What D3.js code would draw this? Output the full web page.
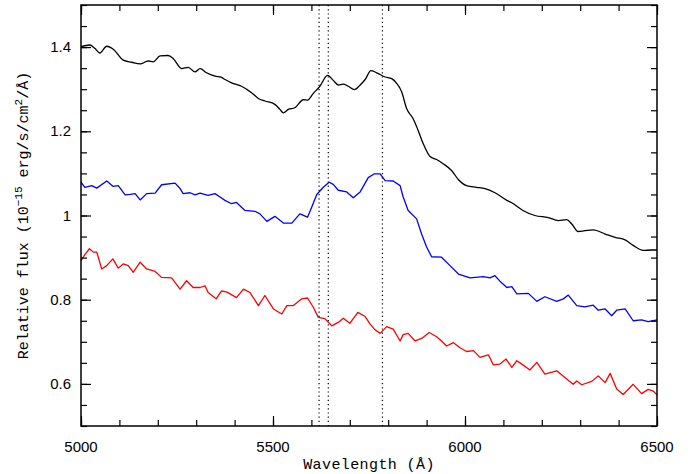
<!DOCTYPE html>
<html><head><meta charset="utf-8">
<script src="https://cdn.jsdelivr.net/npm/d3@7"></script>
<style>body{margin:0;background:#fff}svg{display:block}</style>
</head><body>
<svg id="chart" width="695" height="474"></svg>
<script>
// ---- data (wavelength in Å, relative flux) ----
const blackWave = [5000,5023,5036,5049,5067,5084,5110,5132,5154,5175,5188,5206,5227,5240,5262,5279,5297,5310,5327,5349,5366,5375,5392,5418,5445,5462,5479,5505,5518,5527,5540,5557,5579,5590,5605,5622,5642,5657,5670,5683,5696,5712,5727,5740,5755,5770,5792,5809,5822,5835,5848,5865,5878,5891,5909,5926,5943,5965,5983,6004,6030,6052,6078,6109,6126,6135,6151,6182,6217,6243,6265,6278,6295,6312,6334,6365,6391,6417,6438,6464,6486,6500];
const blackFlux = [1.401,1.405,1.397,1.386,1.402,1.395,1.369,1.364,1.360,1.367,1.365,1.379,1.380,1.373,1.349,1.352,1.341,1.349,1.339,1.331,1.328,1.323,1.315,1.307,1.291,1.278,1.272,1.264,1.252,1.244,1.252,1.256,1.275,1.274,1.290,1.307,1.333,1.321,1.310,1.312,1.307,1.299,1.310,1.323,1.344,1.339,1.329,1.325,1.314,1.294,1.254,1.230,1.202,1.171,1.140,1.133,1.123,1.107,1.085,1.071,1.067,1.064,1.054,1.036,1.028,1.022,1.012,1.000,0.995,0.988,0.990,0.980,0.962,0.964,0.966,0.956,0.948,0.942,0.929,0.917,0.918,0.918];

const blueWave = [5000,5010,5028,5041,5067,5084,5097,5115,5128,5141,5154,5171,5193,5210,5245,5258,5266,5284,5297,5310,5331,5349,5362,5375,5392,5405,5427,5453,5466,5484,5505,5527,5549,5570,5590,5601,5614,5631,5646,5657,5670,5692,5709,5727,5748,5764,5779,5792,5813,5831,5839,5852,5874,5887,5900,5913,5939,5961,5983,6013,6048,6065,6078,6091,6109,6122,6135,6165,6187,6208,6239,6256,6269,6291,6312,6334,6347,6365,6382,6395,6417,6438,6460,6477,6500];
const blueFlux = [1.079,1.067,1.071,1.065,1.082,1.069,1.071,1.049,1.050,1.052,1.037,1.052,1.053,1.073,1.077,1.064,1.052,1.054,1.049,1.053,1.048,1.052,1.044,1.036,1.028,1.031,1.012,1.010,1.004,0.986,0.998,0.982,0.982,1.004,0.996,1.020,1.050,1.067,1.079,1.074,1.060,1.056,1.042,1.056,1.090,1.099,1.099,1.083,1.082,1.071,1.044,1.012,0.992,0.956,0.925,0.902,0.901,0.881,0.861,0.852,0.855,0.852,0.857,0.844,0.829,0.831,0.814,0.815,0.796,0.807,0.796,0.802,0.811,0.786,0.783,0.787,0.775,0.778,0.762,0.775,0.778,0.750,0.752,0.748,0.752];

const redWave = [5000,5010,5022,5032,5041,5054,5067,5083,5097,5110,5123,5136,5154,5171,5193,5210,5236,5258,5275,5292,5310,5323,5331,5352,5366,5380,5405,5423,5440,5462,5479,5501,5523,5536,5553,5575,5590,5605,5618,5635,5653,5670,5683,5700,5721,5740,5753,5764,5779,5796,5813,5831,5839,5852,5870,5887,5907,5926,5939,5952,5970,5987,6004,6022,6039,6061,6074,6091,6107,6122,6135,6148,6169,6187,6208,6239,6260,6282,6291,6304,6330,6347,6365,6378,6395,6412,6438,6460,6477,6490,6500];
const redFlux = [0.893,0.907,0.921,0.913,0.913,0.873,0.881,0.897,0.875,0.885,0.881,0.865,0.889,0.873,0.867,0.853,0.852,0.825,0.845,0.829,0.829,0.833,0.817,0.802,0.821,0.818,0.805,0.825,0.817,0.786,0.810,0.778,0.766,0.786,0.786,0.802,0.804,0.782,0.758,0.755,0.738,0.746,0.756,0.744,0.770,0.760,0.742,0.730,0.720,0.736,0.730,0.702,0.717,0.720,0.702,0.708,0.722,0.712,0.702,0.690,0.698,0.686,0.677,0.679,0.663,0.669,0.645,0.647,0.659,0.639,0.655,0.647,0.633,0.651,0.623,0.631,0.615,0.599,0.607,0.598,0.606,0.619,0.603,0.625,0.588,0.575,0.599,0.577,0.587,0.583,0.574];

const markerLines = [5620, 5644, 5785];
const xTickLabels = [5000, 5500, 6000, 6500];
const yTickLabels = [0.6, 0.8, 1.0, 1.2, 1.4];
const xDomain = [5000, 6500];
const yDomain = [0.5, 1.5];

// ---- layout ----
const svg = d3.select("#chart");
const L = 81, R = 657, T = 5, B = 426;
const x = d3.scaleLinear().domain(xDomain).range([L, R]);
const y = d3.scaleLinear().domain(yDomain).range([B, T]);

const series = [
  {w: blackWave, f: blackFlux, c: "#000000", curve: d3.curveMonotoneX},
  {w: blueWave, f: blueFlux, c: "#0000ff", curve: d3.curveLinear},
  {w: redWave, f: redFlux, c: "#ff0000", curve: d3.curveLinear}
];
series.forEach(s => {
  const line = d3.line().x(d => x(d[0])).y(d => y(d[1])).curve(s.curve);
  svg.append("path").datum(s.w.map((w, i) => [w, s.f[i]]))
    .attr("d", line).attr("fill", "none").attr("stroke", s.c)
    .attr("stroke-width", 1.3).attr("stroke-linejoin", "round");
});

// dotted vertical lines
svg.selectAll("line.mark").data(markerLines).enter().append("line")
  .attr("x1", d => x(d)).attr("x2", d => x(d)).attr("y1", T).attr("y2", B)
  .attr("stroke", "#000").attr("stroke-width", 1.2).attr("stroke-dasharray", "1.2,3");

// axes (ticks inward)
const xMajor = d3.range(5000, 6501, 500), xMinor = d3.range(5000, 6501, 100);
const yMajor = d3.range(0.6, 1.41, 0.2), yMinor = d3.range(0.5, 1.501, 0.05);
const fmtY = d => (Math.abs(d - 1) < 1e-9 ? "1" : d3.format(".1f")(d));

function axisGroup(axisFn, ticks, size, transform) {
  return svg.append("g").attr("transform", transform)
    .call(axisFn.tickValues(ticks).tickSize(size).tickFormat(""))
    .call(g => g.select(".domain").remove())
    .call(g => g.selectAll("line").attr("stroke", "#000").attr("stroke-width", 1.2));
}
axisGroup(d3.axisBottom(x), xMinor, -6, `translate(0,${B})`);
axisGroup(d3.axisBottom(x), xMajor, -10, `translate(0,${B})`);
axisGroup(d3.axisTop(x), xMinor, -6, `translate(0,${T})`);
axisGroup(d3.axisTop(x), xMajor, -10, `translate(0,${T})`);
axisGroup(d3.axisLeft(y), yMinor, -6, `translate(${L},0)`);
axisGroup(d3.axisLeft(y), yMajor, -10, `translate(${L},0)`);
axisGroup(d3.axisRight(y), yMinor, -6, `translate(${R},0)`);
axisGroup(d3.axisRight(y), yMajor, -10, `translate(${R},0)`);

// frame
svg.append("rect").attr("x", L).attr("y", T).attr("width", R - L).attr("height", B - T)
  .attr("fill", "none").attr("stroke", "#000").attr("stroke-width", 1.5);

// tick labels
const tickFont = "'Liberation Sans', Arial, sans-serif";
svg.selectAll("text.xl").data(xTickLabels).enter().append("text")
  .attr("x", d => x(d)).attr("y", 452).attr("text-anchor", "middle")
  .attr("font-family", tickFont).attr("font-size", 15).text(d => d);
svg.selectAll("text.yl").data(yTickLabels).enter().append("text")
  .attr("x", L - 10).attr("y", d => y(d) + 5).attr("text-anchor", "end")
  .attr("font-family", tickFont).attr("font-size", 15).text(fmtY);

// axis titles
const titleFont = "'Liberation Mono', 'DejaVu Sans Mono', monospace";
svg.append("text").attr("x", (L + R) / 2).attr("y", 469).attr("text-anchor", "middle")
  .attr("font-family", titleFont).attr("font-size", 15).attr("letter-spacing", 0.4).text("Wavelength (Å)");

const yt = svg.append("text").attr("transform", `translate(28,${(T + B) / 2}) rotate(-90)`)
  .attr("text-anchor", "middle").attr("font-family", titleFont).attr("font-size", 15);
yt.append("tspan").text("Relative flux (10");
yt.append("tspan").attr("dy", -6).attr("font-size", 11).text("−15");
yt.append("tspan").attr("dy", 6).text(" erg/s/cm");
yt.append("tspan").attr("dy", -6).attr("font-size", 11).text("2");
yt.append("tspan").attr("dy", 6).text("/Å)");
</script>
</body></html>
